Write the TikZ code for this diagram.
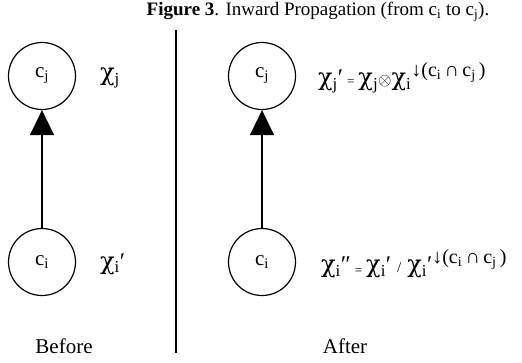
\documentclass[tikz,border=0pt]{standalone}
\usepackage{fontspec}
\setmainfont{Liberation Serif}
\newfontfamily\greek{DejaVu Serif}
\usetikzlibrary{arrows.meta,positioning}
\newcommand\chiv{{\greek χ}}
\newcommand\restr{\raisebox{9pt}{\fontsize{20}{20}\selectfont ↓(c\textsubscript{i}\,∩\,c\textsubscript{j}\,)}}

\begin{document}
\begin{tikzpicture}[
  x=1pt, y=-1pt,
  font=\fontsize{21}{23}\selectfont,
  cluster/.style={draw, circle, line width=1.2pt, minimum size=67pt, inner sep=0pt},
  pot/.style={anchor=west, inner sep=0pt, font=\fontsize{24}{26}\selectfont},
  flow/.style={line width=1.4pt, -{Triangle[length=25pt,width=24pt]}},
  sep/.style={line width=1.4pt}
]
\useasboundingbox (0,0) rectangle (522,362);
% title
\node[font=\fontsize{19}{21}\selectfont] (title) at (318,12)
  {\textbf{Figure 3}. Inward Propagation (from c\textsubscript{i} to c\textsubscript{j}).};
% divider
\coordinate (top) at (176,30);
\coordinate (bot) at (176,353);
\draw[sep] (top) -- (bot);
% before
\node[cluster] (cjl) at (42,76) {c\textsubscript{j}};
\node[cluster] (cil) at (42,262) {c\textsubscript{i}};
\draw[flow] (cil) -- (cjl);
\node[pot] (xjl) at (100,78) {\chiv\textsubscript{j}};
\node[pot] (xil) at (100,264) {\chiv\textsubscript{i}′};
\node (before) at (64,346) {Before};
% after
\node[cluster] (cjr) at (262,76) {c\textsubscript{j}};
\node[cluster] (cir) at (262,262) {c\textsubscript{i}};
\draw[flow] (cir) -- (cjr);
\node[pot] (xjr) at (318,78) {\chiv\textsubscript{j}′\,{\fontsize{13}{13}\selectfont =}\,\chiv\textsubscript{j}{\fontsize{18}{18}\selectfont$\otimes$}\chiv\textsubscript{i}\restr};
\node[pot] (xir) at (321,264) {\chiv\textsubscript{i}″\,{\fontsize{13}{13}\selectfont\raisebox{-2pt}{=}}\,\chiv\textsubscript{i}′ {\fontsize{15}{15}\selectfont /} \chiv\textsubscript{i}′\restr};
\node (after) at (345,346) {After};
\end{tikzpicture}
\end{document}
